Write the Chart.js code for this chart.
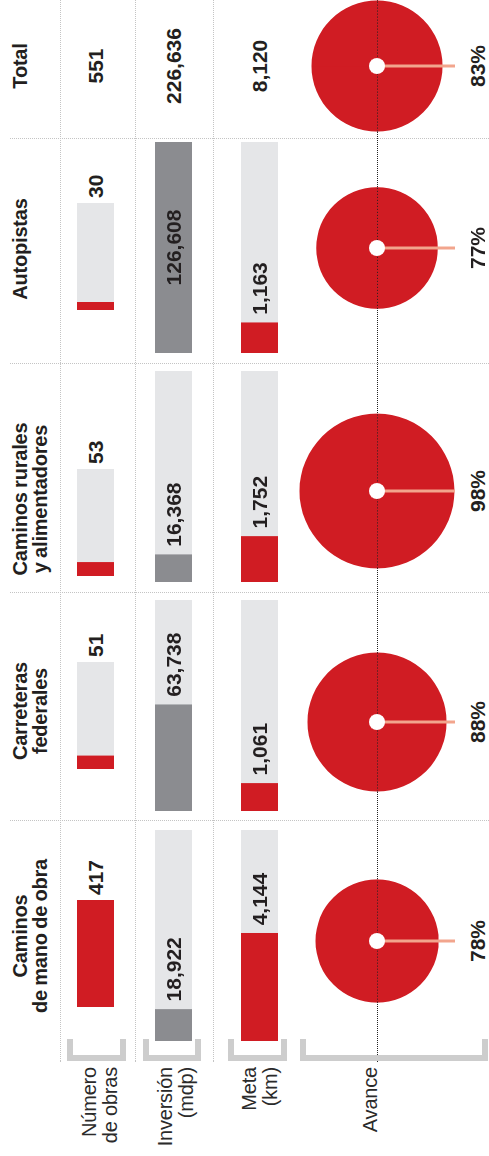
<!DOCTYPE html>
<html lang="es">
<head>
<meta charset="utf-8">
<script src="https://cdn.jsdelivr.net/npm/chart.js@4.4.1/dist/chart.umd.min.js"></script>
<style>
  html, body { margin: 0; padding: 0; background: #fff; overflow: hidden; }
  body { width: 489px; height: 1156px; position: relative; }
  /* la infografía se arma horizontal y se gira 90° */
  #stage { position: absolute; left: 0; top: 0; width: 1156px; height: 489px;
    transform-origin: 0 0; transform: translate(0, 1156px) rotate(-90deg);
    font-family: "Liberation Sans", Arial, sans-serif; color: #231f20; }
  #stage > * { position: absolute; }
  .dot-h { height: 0; border-top: 1px dotted #c4c4c4; }
  .dot-v { width: 0; border-left: 1px dotted #c4c4c4; }
  .dot-avance { height: 0; border-top: 1px dotted #222; }
  .head { font-weight: 700; font-size: 20px; line-height: 20px; text-align: center; width: 240px; letter-spacing: -0.2px; word-spacing: -1px; }
  .num { font-weight: 700; font-size: 21px; line-height: 37px; white-space: nowrap; }
  .side { font-size: 20px; line-height: 21px; text-align: right; width: 89px; left: 0; color: #2a2a2a; letter-spacing: -0.2px; }
  .brk { border: 6px solid #cdcdcd; border-right: none; width: 22px; box-sizing: border-box; }
  .pct { font-weight: 700; font-size: 21px; line-height: 21px; width: 80px; text-align: center; }
</style>
</head>
<body>
<div id="stage"></div>
<script>
// datos
const categorias = [['Caminos', 'de mano de obra'], ['Carreteras', 'federales'], ['Caminos rurales', 'y alimentadores'], ['Autopistas']];
const totalLabel = 'Total';
const filas = [['Número', 'de obras'], ['Inversión', '(mdp)'], ['Meta', '(km)'], ['Avance']];
const numeroObras = [417, 51, 53, 30];
const inversion = [18922, 63738, 16368, 126608];
const meta = [4144, 1061, 1752, 1163];
const avance = [78, 88, 98, 77];
const totales = [551, 226636, 8120];
const avanceTotal = 83;

// layout (coordenadas de la infografía sin girar)
const colBar = [115, 345, 574, 803];
const colObras = [149, 387, 580, 846];
const colPie = [215, 434, 665, 908];
const colHead = [220, 445, 657, 907];
const totalX = 1090;
const rowTop = [77, 155, 241];
const sideTop = [79, 155, 239, 360];
const BAR_H = 37, BAR_LEN = 211, OBRAS_LEN = 107;
const PIE_Y = 377, PIE_BOX = 158;

const ROJO = '#d01c23';
const GRIS = '#8b8c90';
const GRIS_CLARO = '#e5e6e8';
const SALMON = '#f2a58d';

const stage = document.getElementById('stage');
const fmt = v => v.toLocaleString('en-US');

function el(cls, css, html) {
  const d = document.createElement('div');
  d.className = cls;
  Object.assign(d.style, css);
  if (html !== undefined) d.innerHTML = html;
  stage.appendChild(d);
  return d;
}

// líneas guía
[60, 135, 213].forEach(y => el('dot-h', { left: '94px', top: y + 'px', width: '1062px' }));
[1017, 792, 563, 335].forEach(x => el('dot-v', { left: x + 'px', top: '10px', height: '479px' }));
el('dot-avance', { left: '94px', top: PIE_Y + 'px', width: '1062px' });

// corchetes y etiquetas de fila
[[67, 59], [143, 58], [228, 59], [300, 188]].forEach(([t, h]) =>
  el('brk', { left: '95px', top: t + 'px', height: h + 'px' }));
filas.forEach((f, i) => el('side', { top: sideTop[i] + 'px' }, f.join('<br>')));

// encabezados
categorias.forEach((c, i) => el('head', { left: (colHead[i] - 120) + 'px', top: '10px' }, c.join('<br>')));
el('head', { left: (totalX - 120) + 'px', top: '10px' }, totalLabel);

// totales
totales.forEach((v, i) => el('num', { left: (totalX - 60) + 'px', top: rowTop[i] + 'px', width: '120px', textAlign: 'center' }, fmt(v)));

function barCell(x, y, len, valor, max, color) {
  const cv = document.createElement('canvas');
  cv.width = len; cv.height = BAR_H;
  cv.style.left = x + 'px'; cv.style.top = y + 'px';
  stage.appendChild(cv);
  return new Chart(cv, {
    type: 'bar',
    data: { labels: [''], datasets: [
      { data: [valor], backgroundColor: color, order: 1 },
      { data: [max], backgroundColor: GRIS_CLARO, order: 2 }
    ] },
    options: {
      indexAxis: 'y', responsive: false, animation: false,
      datasets: { bar: { grouped: false, barPercentage: 1, categoryPercentage: 1, borderWidth: 0 } },
      scales: { x: { display: false, min: 0, max: max }, y: { display: false } },
      plugins: { legend: { display: false }, tooltip: { enabled: false } },
      layout: { padding: 0 }
    }
  });
}

const maxObras = Math.max(...numeroObras);
const maxInv = Math.max(...inversion);
const maxMeta = totales[2];

numeroObras.forEach((v, i) => {
  const ch = barCell(colObras[i], rowTop[0], OBRAS_LEN, v, maxObras, ROJO);
  const end = ch.scales.x.getPixelForValue(maxObras);
  el('num', { left: (colObras[i] + end + 5) + 'px', top: rowTop[0] + 'px' }, fmt(v));
});

inversion.forEach((v, i) => {
  const ch = barCell(colBar[i], rowTop[1], BAR_LEN, v, maxInv, GRIS);
  if (v === maxInv) {
    el('num', { left: colBar[i] + 'px', top: rowTop[1] + 'px', width: BAR_LEN + 'px', textAlign: 'center' }, fmt(v));
  } else {
    const end = ch.scales.x.getPixelForValue(v);
    el('num', { left: (colBar[i] + end + 8) + 'px', top: rowTop[1] + 'px' }, fmt(v));
  }
});

meta.forEach((v, i) => {
  const ch = barCell(colBar[i], rowTop[2], BAR_LEN, v, maxMeta, ROJO);
  const end = ch.scales.x.getPixelForValue(v);
  el('num', { left: (colBar[i] + end + 8) + 'px', top: rowTop[2] + 'px' }, fmt(v));
});

// centro del círculo: línea punteada, línea salmón y hueco blanco
const centro = {
  id: 'centro',
  afterDatasetsDraw(chart) {
    const arc = chart.getDatasetMeta(0).data[0];
    const { x, y, outerRadius } = arc;
    const ctx = chart.ctx;
    ctx.save();
    ctx.strokeStyle = '#222';
    ctx.lineWidth = 1;
    ctx.setLineDash([1, 2]);
    ctx.beginPath();
    ctx.moveTo(x - outerRadius, Math.floor(y) + 0.5);
    ctx.lineTo(x + outerRadius, Math.floor(y) + 0.5);
    ctx.stroke();
    ctx.setLineDash([]);
    ctx.strokeStyle = SALMON;
    ctx.lineWidth = 3;
    ctx.beginPath();
    ctx.moveTo(x, y);
    ctx.lineTo(x, y + PIE_BOX / 2 - 1);
    ctx.stroke();
    ctx.fillStyle = '#fff';
    ctx.beginPath();
    ctx.arc(x, y, 8, 0, Math.PI * 2);
    ctx.fill();
    ctx.restore();
  }
};

function pieCell(cx, valor) {
  const cv = document.createElement('canvas');
  cv.width = PIE_BOX; cv.height = PIE_BOX;
  cv.style.left = (cx - PIE_BOX / 2) + 'px';
  cv.style.top = (PIE_Y - PIE_BOX / 2) + 'px';
  stage.appendChild(cv);
  new Chart(cv, {
    type: 'pie',
    data: { labels: ['Avance'], datasets: [{ data: [valor], backgroundColor: ROJO, borderWidth: 0, radius: valor + '%' }] },
    options: {
      responsive: false, animation: false,
      plugins: { legend: { display: false }, tooltip: { enabled: false } },
      layout: { padding: 0 }
    },
    plugins: [centro]
  });
  el('pct', { left: (cx - 40) + 'px', top: '467px' }, valor + '%');
}

avance.forEach((v, i) => pieCell(colPie[i], v));
pieCell(totalX, avanceTotal);
</script>
</body>
</html>
